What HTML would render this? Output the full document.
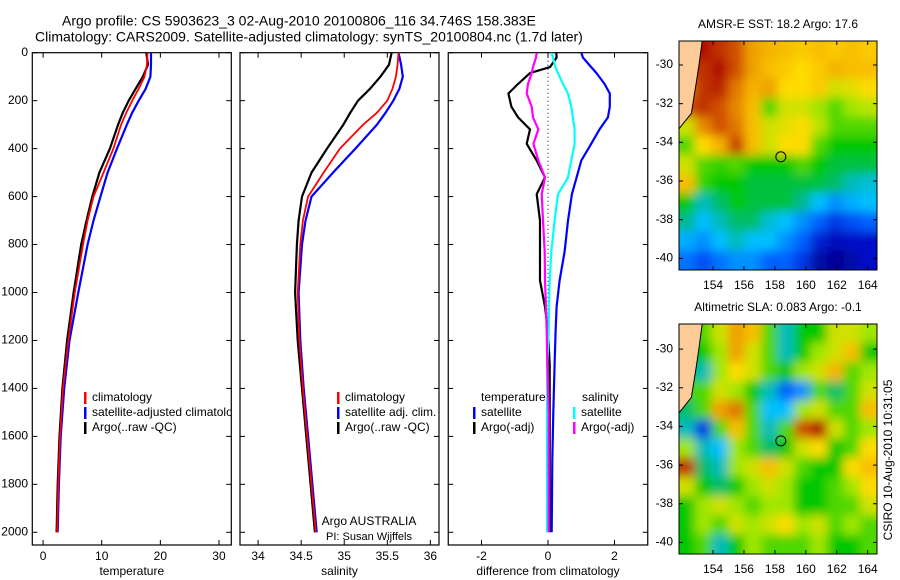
<!DOCTYPE html>
<html><head><meta charset="utf-8"><style>
html,body{margin:0;padding:0;background:#fff;}
svg{display:block;font-family:"Liberation Sans",sans-serif;}
</style></head><body>
<svg id="fig" width="900" height="580" viewBox="0 0 900 580"></svg>
<script>
// ---- data ----
const depths=[0,50,100,150,200,250,300,400,500,600,700,800,1000,1200,1400,1600,1800,2000];
const tempClim=[17.8,17.7,17.3,16.3,15.2,14.2,13.3,12.0,10.3,8.6,7.6,6.8,5.4,4.3,3.4,2.9,2.6,2.4];
const tempSat=[18.4,18.4,18.3,17.5,16.3,15.2,14.3,12.6,11.0,9.8,8.6,7.6,6.0,4.5,3.6,3.0,2.7,2.5];
const tempArgo=[17.6,17.9,17.0,15.8,14.6,13.6,12.8,11.4,9.6,8.4,7.4,6.5,5.2,4.1,3.3,2.8,2.5,2.3];
const salClim=[35.63,35.62,35.6,35.56,35.5,35.38,35.22,34.95,34.76,34.58,34.52,34.49,34.46,34.48,34.52,34.57,34.62,34.67];
const salSat=[35.63,35.66,35.68,35.64,35.57,35.48,35.38,35.13,34.87,34.62,34.55,34.51,34.47,34.49,34.53,34.58,34.63,34.68];
const salArgo=[35.55,35.52,35.42,35.3,35.16,35.07,34.99,34.8,34.62,34.51,34.47,34.45,34.43,34.46,34.51,34.56,34.61,34.66];
const diffDepths=[0,20,60,85,130,170,225,270,320,380,450,520,590,700,830,950,1060,1160,1300,1500,1700,2000];
const dTempSat=[1.0,1.05,1.3,1.46,1.7,1.86,1.86,1.8,1.55,1.3,1.0,0.86,0.72,0.6,0.5,0.35,0.26,0.23,0.2,0.16,0.13,0.11];
const dTempArgo=[0.25,0.26,0.06,-0.54,-0.9,-1.19,-1.1,-0.9,-0.54,-0.64,-0.34,-0.09,-0.34,-0.24,-0.24,-0.24,-0.09,0.0,0.05,0.05,0.05,0.05];
const dSalSat=[0.1,0.15,0.22,0.3,0.45,0.6,0.7,0.75,0.8,0.8,0.7,0.6,0.3,0.2,0.1,0.05,0.03,0.02,-0.02,-0.03,-0.03,-0.03];
const dSalArgo=[-0.34,-0.36,-0.45,-0.49,-0.6,-0.64,-0.49,-0.45,-0.29,-0.44,-0.29,-0.09,-0.19,-0.15,-0.1,-0.09,-0.06,-0.04,-0.02,0.02,0.02,0.02];
const yTicks=[0,200,400,600,800,1000,1200,1400,1600,1800,2000];
const tTicks=[0,10,20,30];
const sTicks=[34,34.5,35,35.5,36];
const sTickLabels=["34","34.5","35","35.5","36"];
const dTicks=[-2,0,2];
const sstGrid=[
[-1,0.95,0.9,0.85,0.75,0.72,0.7,0.68,0.7,0.68,0.7,0.68],
[-1,0.9,0.95,0.85,0.75,0.7,0.68,0.65,0.68,0.72,0.7,0.7],
[0.8,0.9,0.92,0.8,0.72,0.75,0.65,0.65,0.68,0.6,0.62,0.65],
[0.85,0.9,0.85,0.78,0.7,0.5,0.6,0.6,0.55,0.5,0.55,0.58],
[0.6,0.78,0.85,0.8,0.7,0.6,0.62,0.65,0.58,0.5,0.5,0.5],
[0.5,0.65,0.72,0.88,0.7,0.6,0.65,0.65,0.5,0.45,0.45,0.45],
[0.6,0.5,0.48,0.5,0.45,0.45,0.45,0.5,0.45,0.42,0.42,0.42],
[0.7,0.48,0.45,0.45,0.42,0.42,0.42,0.42,0.42,0.4,0.35,0.33],
[0.45,0.35,0.4,0.45,0.42,0.42,0.42,0.38,0.3,0.25,0.28,0.3],
[0.38,0.3,0.35,0.4,0.4,0.33,0.3,0.25,0.2,0.15,0.18,0.2],
[0.28,0.25,0.3,0.35,0.3,0.3,0.25,0.2,0.12,0.08,0.1,0.1],
[0.22,0.18,0.22,0.25,0.25,0.2,0.2,0.15,0.05,0.03,0.05,0.1]];
const slaGrid=[
[-1,0.5,0.6,0.75,0.7,0.5,0.35,0.45,0.45,0.6,0.6,0.55],
[-1,0.45,0.55,0.75,0.6,0.5,0.35,0.45,0.55,0.6,0.7,0.45],
[0.45,0.35,0.55,0.65,0.6,0.5,0.45,0.55,0.6,0.72,0.5,0.55],
[0.5,0.5,0.6,0.55,0.45,0.35,0.2,0.25,0.5,0.4,0.5,0.6],
[0.4,0.5,0.75,0.8,0.5,0.3,0.3,0.55,0.6,0.5,0.5,0.7],
[0.35,0.15,0.5,0.7,0.5,0.35,0.5,0.85,0.95,0.6,0.5,0.55],
[0.55,0.35,0.3,0.55,0.5,0.4,0.45,0.6,0.65,0.45,0.5,0.65],
[0.9,0.4,0.35,0.55,0.6,0.7,0.6,0.5,0.45,0.45,0.65,0.7],
[0.6,0.45,0.4,0.45,0.55,0.6,0.55,0.45,0.45,0.5,0.55,0.65],
[0.45,0.55,0.6,0.55,0.5,0.55,0.55,0.45,0.45,0.5,0.5,0.6],
[0.45,0.55,0.5,0.6,0.55,0.6,0.65,0.55,0.6,0.5,0.55,0.5],
[0.45,0.5,0.35,0.45,0.55,0.5,0.5,0.5,0.55,0.45,0.45,0.5]];
const lonTicks=[154,156,158,160,162,164];
const latTicks=[-30,-32,-34,-36,-38,-40];
const argoLon=158.383, argoLat=-34.746;

// ---- helpers ----
const NS="http://www.w3.org/2000/svg";
const svg=document.getElementById('fig');
function el(tag,attrs,parent){const e=document.createElementNS(NS,tag);for(const k in attrs)e.setAttribute(k,attrs[k]);(parent||svg).appendChild(e);return e;}
function txt(x,y,s,attrs,parent){const t=el('text',Object.assign({x:x,y:y,'font-size':12,fill:'#000','dominant-baseline':'middle'},attrs||{}),parent);t.textContent=s;return t;}
const TOP=52.7,BOT=545;
const yD=d=>TOP+d*0.2398;

function panel(name,x0,x1,xmin,xmax,ticks,tickLabels,xlabel,showY){
  const g=el('g',{});
  
  
  const xs=v=>x0+(v-xmin)/(xmax-xmin)*(x1-x0);
  const cid=name+'-clip';
  const cp=el('clipPath',{id:cid},g);el('rect',{x:x0,y:TOP,width:x1-x0,height:BOT-TOP},cp);
  el('rect',{x:x0,y:TOP,width:x1-x0,height:BOT-TOP,fill:'none',stroke:'#000','stroke-width':1.2},g);
  yTicks.forEach(d=>{const y=yD(d);
    el('line',{x1:x0,x2:x0+5,y1:y,y2:y,stroke:'#000'},g);
    el('line',{x1:x1-5,x2:x1,y1:y,y2:y,stroke:'#000'},g);
    if(showY){const t=txt(28,y,String(d),{'text-anchor':'end'},g);
      }
  });
  ticks.forEach((v,i)=>{const x=xs(v);
    el('line',{x1:x,x2:x,y1:TOP,y2:TOP+5,stroke:'#000'},g);
    el('line',{x1:x,x2:x,y1:BOT-5,y2:BOT,stroke:'#000'},g);
    const t=txt(x,557,tickLabels[i],{'text-anchor':'middle'},g);
    
  });
  const xl=txt((x0+x1)/2,572,xlabel,{'text-anchor':'middle'},g);
  
  const inner=el('g',{'clip-path':'url(#'+cid+')'},g);
  return {g,inner,xs};
}
function line(p,ds,vals,color,w,name){
  const pts=vals.map((v,i)=>p.xs(v).toFixed(1)+','+yD(ds[i]).toFixed(1)).join(' ');
  const pl=el('polyline',{points:pts,fill:'none',stroke:color,'stroke-width':w,'stroke-linejoin':'round'},p.inner);
  
  
}
function legendEntry(p,x,y,color,label){
  const r=el('rect',{x:x,y:y-6,width:2.5,height:12,fill:color},p.inner);
  
  
  const t=txt(x+8,y,label,{},p.inner);
  
  
}

// titles
let t1=txt(62,22,'Argo profile: CS 5903623_3 02-Aug-2010 20100806_116 34.746S 158.383E',{'font-size':14});

let t2=txt(35,38,'Climatology: CARS2009. Satellite-adjusted climatology: synTS_20100804.nc (1.7d later)',{'font-size':14});


// panel 1 temperature
const p1=panel('temperature-panel',32.3,231.3,-1.84,32.1,tTicks,tTicks.map(String),'temperature',true);
line(p1,depths,tempSat,'#0000ff',2.2,'temp-satellite-line');
line(p1,depths,tempArgo,'#000',2.2,'temp-argo-line');
line(p1,depths,tempClim,'#ff0000',1.8,'temp-climatology-line');
legendEntry(p1,84,398,'#ff0000','climatology');
legendEntry(p1,84,413,'#0000ff','satellite-adjusted climatology');
legendEntry(p1,84,428,'#000','Argo(..raw -QC)');

// panel 2 salinity
const p2=panel('salinity-panel',240,439,33.79,36.1,sTicks,sTickLabels,'salinity',false);
line(p2,depths,salSat,'#0000ff',2.2,'sal-satellite-line');
line(p2,depths,salArgo,'#000',2.2,'sal-argo-line');
line(p2,depths,salClim,'#ff0000',1.8,'sal-climatology-line');
legendEntry(p2,337,398,'#ff0000','climatology');
legendEntry(p2,337,413,'#0000ff','satellite adj. clim.');
legendEntry(p2,337,428,'#000','Argo(..raw -QC)');
let a1=txt(369,522,'Argo AUSTRALIA',{'text-anchor':'middle'},p2.g);

let a2=txt(369,537,'PI: Susan Wijffels',{'text-anchor':'middle','font-size':11},p2.g);


// panel 3 difference
const p3=panel('difference-panel',448.25,647.75,-3,3,dTicks,dTicks.map(String),'difference from climatology',false);
el('line',{x1:p3.xs(0),x2:p3.xs(0),y1:TOP,y2:yD(1300),stroke:'#000','stroke-dasharray':'1,3'},p3.inner);
line(p3,diffDepths,dTempSat,'#0000ff',2.2,'diff-temp-satellite-line');
line(p3,diffDepths,dTempArgo,'#000',2.2,'diff-temp-argo-line');
line(p3,diffDepths,dSalSat,'#00ffff',2.2,'diff-sal-satellite-line');
line(p3,diffDepths,dSalArgo,'#ff00ff',2.2,'diff-sal-argo-line');
let lt=txt(481,398,'temperature',{},p3.inner);
let ls=txt(582,398,'salinity',{},p3.inner);
legendEntry(p3,473,413,'#0000ff','satellite');
legendEntry(p3,473,428,'#000','Argo(-adj)');
legendEntry(p3,573,413,'#00ffff','satellite');
legendEntry(p3,573,428,'#ff00ff','Argo(-adj)');

// maps
const cmapStops=[[0,[0,0,128]],[0.1,[0,16,200]],[0.2,[0,96,255]],[0.3,[0,192,255]],[0.38,[0,184,144]],[0.45,[0,200,0]],[0.55,[160,230,0]],[0.65,[255,220,0]],[0.75,[240,160,0]],[0.85,[208,80,0]],[0.95,[176,16,0]],[1,[160,0,0]]];
function cmap(v){
  for(let i=1;i<cmapStops.length;i++){
    if(v<=cmapStops[i][0]){const a=cmapStops[i-1],b=cmapStops[i];const t=(v-a[0])/(b[0]-a[0]);
      return 'rgb('+a[1].map((c,k)=>Math.round(c+(b[1][k]-c)*t)).join(',')+')';}
  }
  return 'rgb(160,0,0)';
}
function map(name,y0,y1,latTop,latBot,grid,title,fid){
  const x0=679,x1=877,lonL=151.8,lonR=164.6;
  const g=el('g',{});
  
  
  const xs=l=>x0+(l-lonL)/(lonR-lonL)*(x1-x0);
  const ys=l=>y0+(latTop-l)/(latTop-latBot)*(y1-y0);
  const cid=name+'-clip';
  const cp=el('clipPath',{id:cid},g);el('rect',{x:x0,y:y0,width:x1-x0,height:y1-y0},cp);
  const f=el('filter',{id:fid,x:'-10%',y:'-10%',width:'120%',height:'120%'},g);
  el('feGaussianBlur',{stdDeviation:5},f);
  const inner=el('g',{'clip-path':'url(#'+cid+')'},g);
  const cells=el('g',{filter:'url(#'+fid+')'},inner);
  const nr=grid.length,nc=grid[0].length,cw=(x1-x0)/nc,ch=(y1-y0)/nr;
  const val=(i,j)=>{i=Math.max(0,Math.min(nr-1,i));j=Math.max(0,Math.min(nc-1,j));let v=grid[i][j];if(v<0)v=grid[i][j+1];return v;};
  for(let i=-2;i<nr+2;i++)for(let j=-2;j<nc+2;j++){
    const r=el('rect',{x:x0+j*cw-0.5,y:y0+i*ch-0.5,width:cw+1,height:ch+1,fill:cmap(val(i,j))},cells);
    
    
  }
  // land
  const land=el('polygon',{points:[[x0,y0],[xs(153.3),y0],[xs(153.1),ys(latTop-1.2)],[xs(152.9),ys(-31)],[xs(152.6),ys(-32.5)],[x0,ys(-33.3)]].map(p=>p.join(',')).join(' '),fill:'#fccb98',stroke:'#000','stroke-width':1},inner);
  
  const c=el('circle',{cx:xs(argoLon),cy:ys(argoLat),r:5,fill:'none',stroke:'#000','stroke-width':1},g);
  
  el('rect',{x:x0,y:y0,width:x1-x0,height:y1-y0,fill:'none',stroke:'#000','stroke-width':1},g);
  lonTicks.forEach(l=>{const x=xs(l);
    el('line',{x1:x,x2:x,y1:y0,y2:y0+4,stroke:'#000'},g);
    el('line',{x1:x,x2:x,y1:y1-4,y2:y1,stroke:'#000'},g);
    const t=txt(x,y1+16,String(l),{'text-anchor':'middle'},g);
    });
  latTicks.forEach(l=>{const y=ys(l);
    el('line',{x1:x0,x2:x0+4,y1:y,y2:y,stroke:'#000'},g);
    el('line',{x1:x1-4,x2:x1,y1:y,y2:y,stroke:'#000'},g);
    const t=txt(673,y,String(l),{'text-anchor':'end'},g);
    });
  const tt=txt((x0+x1)/2,y0-16,title,{'text-anchor':'middle'},g);
  
}
map('sst-map',41,270,-28.76,-40.6,sstGrid,'AMSR-E SST: 18.2 Argo: 17.6','blur1');
map('sla-map',324,554,-28.7,-40.6,slaGrid,'Altimetric SLA: 0.083 Argo: -0.1','blur2');
const cs=txt(0,0,'CSIRO 10-Aug-2010 10:31:05',{'text-anchor':'middle',transform:'translate(889,460) rotate(-90)'});

</script>
</body></html>
